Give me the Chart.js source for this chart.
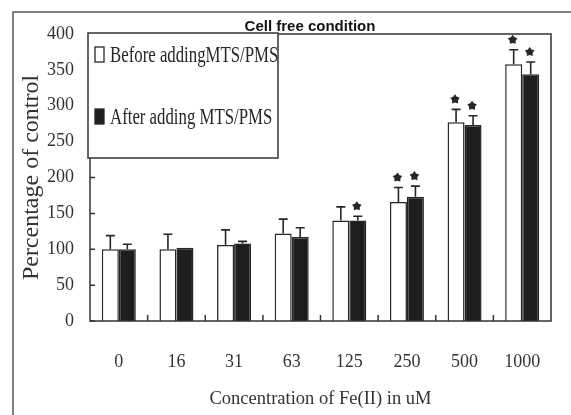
<!DOCTYPE html>
<html>
<head>
<meta charset="utf-8">
<script src="https://cdn.jsdelivr.net/npm/chart.js@4.4.0/dist/chart.umd.min.js"></script>
<style>
html, body { margin: 0; padding: 0; background: #fff; }
</style>
</head>
<body>
<canvas id="myChart" width="571" height="415"></canvas>
<script>
// values
var concentrations = ['0', '16', '31', '63', '125', '250', '500', '1000'];
var beforeValues = [100, 100, 106, 122, 140, 166, 277, 358];
var beforeErrors = [19, 21, 21, 20, 19, 20, 18, 20];
var afterValues = [100, 102, 108, 117, 140, 173, 273, 344];
var afterErrors = [7, 0, 3, 13, 6, 15, 13, 17];
var beforeStars = [false, false, false, false, false, true, true, true];
var afterStars = [false, false, false, false, true, true, true, true];
var yTicks = [0, 50, 100, 150, 200, 250, 300, 350, 400];

var titleText = 'Cell free condition';
var serif = '"Liberation Serif", "DejaVu Serif", serif';
var ink = '#262626';

function drawStar(ctx, x, y, r) {
    ctx.beginPath();
    for (var i = 0; i < 10; i++) {
        var rad = i % 2 === 0 ? r : r * 0.62;
        var a = -Math.PI / 2 + i * Math.PI / 5;
        var px = x + rad * Math.cos(a), py = y + rad * Math.sin(a);
        if (i === 0) ctx.moveTo(px, py); else ctx.lineTo(px, py);
    }
    ctx.closePath();
    ctx.fill();
}

var decorPlugin = {
    id: 'decor',
    beforeDraw: function (chart) {
        var ctx = chart.ctx;
        ctx.save();
        ctx.fillStyle = '#fff';
        ctx.fillRect(0, 0, chart.width, chart.height);
        // outer frame (only top and left visible)
        ctx.strokeStyle = '#555';
        ctx.lineWidth = 1.5;
        ctx.beginPath();
        ctx.moveTo(13, chart.height);
        ctx.lineTo(13, 12);
        ctx.lineTo(chart.width, 12);
        ctx.stroke();
        ctx.restore();
    },
    afterDatasetsDraw: function (chart) {
        var ctx = chart.ctx;
        var area = chart.chartArea;
        var y = chart.scales.y;
        var x = chart.scales.x;
        ctx.save();
        // plot box
        ctx.strokeStyle = '#333';
        ctx.lineWidth = 1.5;
        ctx.strokeRect(area.left, area.top, area.right - area.left, area.bottom - area.top);
        // inner tick marks on x between categories
        ctx.beginPath();
        for (var i = 1; i < concentrations.length; i++) {
            var tx = (x.getPixelForValue(i - 1) + x.getPixelForValue(i)) / 2;
            ctx.moveTo(tx, area.bottom);
            ctx.lineTo(tx, area.bottom - 6);
        }
        yTicks.forEach(function (v) {
            var ty = y.getPixelForValue(v);
            ctx.moveTo(area.left, ty);
            ctx.lineTo(area.left + 5, ty);
        });
        ctx.stroke();

        // error bars and stars
        var errs = [beforeErrors, afterErrors];
        var stars = [beforeStars, afterStars];
        chart.data.datasets.forEach(function (ds, di) {
            var meta = chart.getDatasetMeta(di);
            meta.data.forEach(function (bar, i) {
                var top = y.getPixelForValue(ds.data[i]);
                var capY = y.getPixelForValue(ds.data[i] + errs[di][i]);
                ctx.strokeStyle = ink;
                ctx.lineWidth = 1.6;
                if (errs[di][i] > 0) {
                    ctx.beginPath();
                    ctx.moveTo(bar.x, top);
                    ctx.lineTo(bar.x, capY);
                    ctx.moveTo(bar.x - 4.5, capY);
                    ctx.lineTo(bar.x + 4.5, capY);
                    ctx.stroke();
                }
                if (stars[di][i]) {
                    ctx.fillStyle = ink;
                    drawStar(ctx, bar.x - 1, capY - 10, 5);
                }
            });
        });
        ctx.restore();
    },
    afterDraw: function (chart) {
        var ctx = chart.ctx;
        ctx.save();
        // legend box, sitting inside the plot at top left
        var bx = 88, by = 33, bw = 190, bh = 125;
        ctx.fillStyle = '#fff';
        ctx.fillRect(bx, by, bw, bh);
        ctx.strokeStyle = '#333';
        ctx.lineWidth = 1.5;
        ctx.strokeRect(bx, by, bw, bh);
        var rows = [55, 117];
        chart.data.datasets.forEach(function (ds, di) {
            var ry = rows[di];
            ctx.fillStyle = ds.backgroundColor;
            ctx.strokeStyle = ink;
            ctx.lineWidth = 1.3;
            ctx.fillRect(95, ry - 8, 9, 15);
            ctx.strokeRect(95, ry - 8, 9, 15);
            ctx.save();
            ctx.translate(110, ry);
            ctx.scale(0.73, 1);
            ctx.fillStyle = ink;
            ctx.font = '23px ' + serif;
            ctx.textBaseline = 'middle';
            ctx.fillText(ds.label, 0, 1);
            ctx.restore();
        });
        // title overlapping the plot top
        ctx.fillStyle = '#111';
        ctx.font = 'bold 15px "Liberation Sans", Arial, sans-serif';
        ctx.textAlign = 'center';
        ctx.textBaseline = 'middle';
        ctx.fillText(titleText, 310, 27);
        ctx.restore();
    }
};

window.onload = function () {
    var ctx = document.getElementById('myChart').getContext('2d');
    var config = {
        type: 'bar',
        data: {
            labels: concentrations,
            datasets: [{
                label: 'Before addingMTS/PMS',
                data: beforeValues,
                backgroundColor: '#ffffff',
                borderColor: ink,
                borderWidth: 1.5
            }, {
                label: 'After adding MTS/PMS',
                data: afterValues,
                backgroundColor: '#1e1e1e',
                borderColor: ink,
                borderWidth: 1.5
            }]
        },
        options: {
            responsive: false,
            animation: false,
            devicePixelRatio: 1,
            layout: {
                padding: { left: 0, top: 34, right: 13, bottom: 0 }
            },
            datasets: {
                bar: { barPercentage: 1, categoryPercentage: 0.59 }
            },
            plugins: {
                legend: { display: false },
                title: { display: false },
                tooltip: { enabled: false }
            },
            scales: {
                x: {
                    offset: true,
                    grid: { display: false, drawTicks: false },
                    border: { display: false },
                    ticks: {
                        padding: 30,
                        color: '#333',
                        font: { family: serif, size: 18 }
                    },
                    title: {
                        display: true,
                        text: 'Concentration of Fe(II) in uM',
                        color: '#333',
                        font: { family: serif, size: 18.5 },
                        padding: { top: 0, bottom: 5 }
                    },
                    afterFit: function (scale) { scale.height = 94; }
                },
                y: {
                    min: 0,
                    max: 400,
                    afterBuildTicks: function (scale) {
                        scale.ticks = yTicks.map(function (v) { return { value: v }; });
                    },
                    grid: { display: false, drawTicks: false },
                    border: { display: false },
                    ticks: {
                        padding: 16,
                        color: '#333',
                        font: { family: serif, size: 18 }
                    },
                    title: {
                        display: true,
                        text: 'Percentage of control',
                        color: '#333',
                        font: { family: serif, size: 24 },
                        padding: { top: 17, bottom: 0 }
                    },
                    afterFit: function (scale) { scale.width = 90; }
                }
            }
        },
        plugins: [decorPlugin]
    };
    window.myBarChart = new Chart(ctx, config);
};
</script>
</body>
</html>
